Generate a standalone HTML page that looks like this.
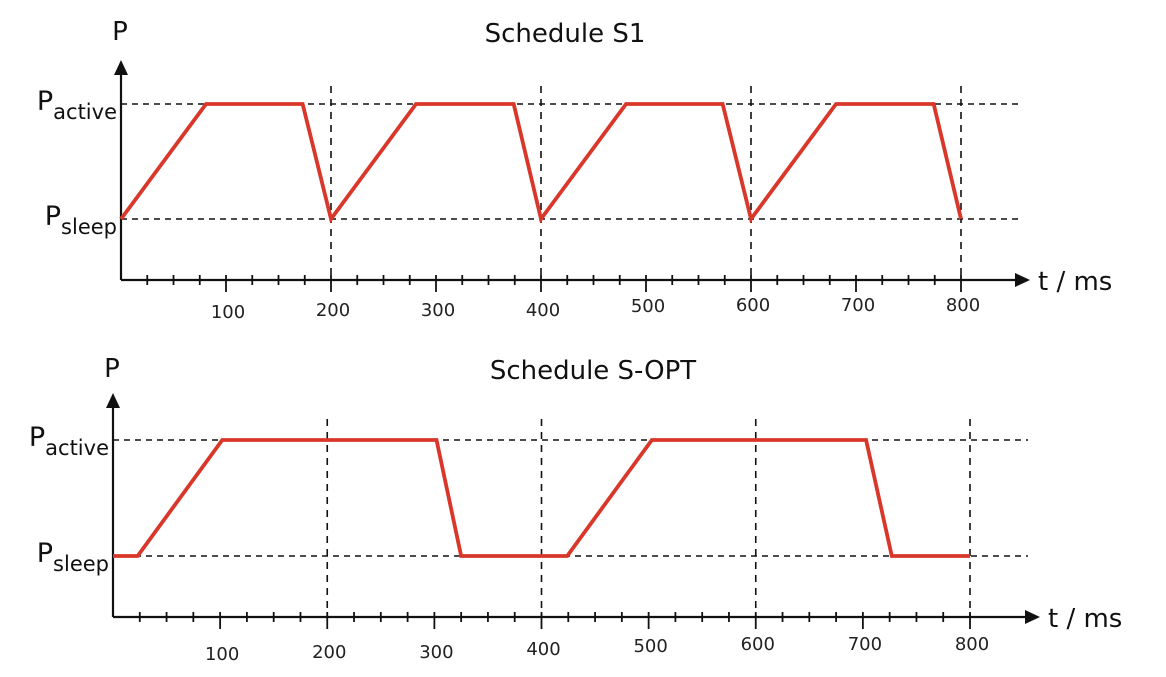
<!DOCTYPE html>
<html><head><meta charset="utf-8"><style>
body{margin:0;background:#fff;}
svg{display:block;font-family:"DejaVu Sans","Liberation Sans",sans-serif;}
</style></head><body>
<svg id="c" width="1166" height="677"></svg>
<script>
const s1Times=[0,81,173,200,281,374,400,481,573,600,681,774,800];
const s1Levels=[0,1,1,0,1,1,0,1,1,0,1,1,0];
const soptTimes=[0,23,102,302,325,424,503,703,727,800];
const soptLevels=[0,0,1,1,0,0,1,1,0,0];
const tickLabels=[100,200,300,400,500,600,700,800];
const gridTimes=[200,400,600,800];
const titles=["Schedule S1","Schedule S-OPT"];
const NS="http://www.w3.org/2000/svg";
const svg=document.getElementById('c');
function mk(tag,attrs,parent){const e=document.createElementNS(NS,tag);for(const k in attrs)e.setAttribute(k,attrs[k]);(parent||svg).appendChild(e);return e;}
const panels=[
 {x0:121,x800:961,yAx:280,yAct:104,ySl:219,yTop:60,xEnd:1030,title:titles[0],times:s1Times,levels:s1Levels,py:30,labY:[318,316,316,316,312,311,311,311],name:'s1'},
 {x0:113,x800:970,yAx:617,yAct:440,ySl:556,yTop:393,xEnd:1040,title:titles[1],times:soptTimes,levels:soptLevels,py:367,labY:[660,658,658,655,652,650,650,650],name:'sopt'}
];
panels.forEach((p,pi)=>{
 const g=mk('g',{});
 
 
 const X=t=>p.x0+(p.x800-p.x0)*t/800;
 const Y=l=>l?p.yAct:p.ySl;
 [p.yAct,p.ySl].forEach((y,i)=>{const l=mk('line',{x1:p.x0,x2:p.xEnd-12,y1:y,y2:y,stroke:'#111','stroke-width':1.6,'stroke-dasharray':'6,5'},g);
  });
 gridTimes.forEach(t=>{const l=mk('line',{x1:X(t),x2:X(t),y1:p.yTop+26,y2:p.yAx,stroke:'#111','stroke-width':1.6,'stroke-dasharray':'7,6'},g);
  });
 const ya=mk('line',{x1:p.x0,x2:p.x0,y1:p.yTop+10,y2:p.yAx,stroke:'#111','stroke-width':2.2},g);
 
 mk('polygon',{points:`${p.x0-7},${p.yTop+15} ${p.x0+7},${p.yTop+15} ${p.x0},${p.yTop}`,fill:'#111'},g);
 const xa=mk('line',{x1:p.x0,x2:p.xEnd-10,y1:p.yAx,y2:p.yAx,stroke:'#111','stroke-width':2.2},g);
 
 mk('polygon',{points:`${p.xEnd-15},${p.yAx-7} ${p.xEnd-15},${p.yAx+7} ${p.xEnd},${p.yAx}`,fill:'#111'},g);
 for(let t=25;t<=800;t+=25){const maj=t%100===0;mk('line',{x1:X(t),x2:X(t),y1:p.yAx-5,y2:p.yAx+(maj?12:5),stroke:'#111','stroke-width':1.8},g);}
 tickLabels.forEach((v,i)=>{const tx=mk('text',{x:X(v)+2,y:p.labY[i],'font-size':18,'text-anchor':'middle',fill:'#222'},g);tx.textContent=v;
  });
 const xt=mk('text',{x:p.xEnd+8,y:p.yAx+10,'font-size':26,fill:'#111'},g);xt.textContent='t / ms';
 
 const yt=mk('text',{x:p.x0-1,y:p.py+10,'font-size':26,'text-anchor':'middle',fill:'#111'},g);yt.textContent='P';
 
 const ti=mk('text',{x:pi?593:565,y:p.py+12,'font-size':26,'text-anchor':'middle',fill:'#111'},g);ti.textContent=p.title;
 
 [['active',p.yAct],['sleep',p.ySl]].forEach(([s,y])=>{const t=mk('text',{x:p.x0-4,y:y+6,'font-size':27,'text-anchor':'end',fill:'#111'},g);
  t.innerHTML='P<tspan font-size="21" dy="9">'+s+'</tspan>';
  });
 const pts=p.times.map((t,i)=>X(t)+','+Y(p.levels[i])).join(' ');
 const pl=mk('polyline',{points:pts,fill:'none',stroke:'#d9372a','stroke-width':3.8,'stroke-linejoin':'miter'},g);
 
});
</script>
</body></html>
